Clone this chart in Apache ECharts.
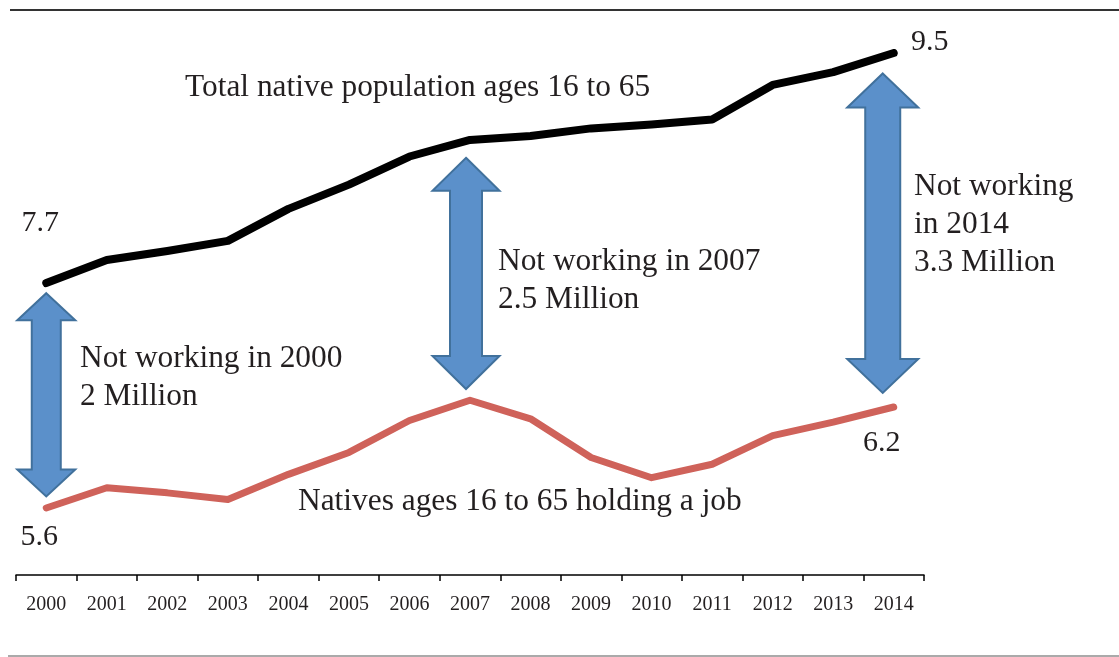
<!DOCTYPE html>
<html>
<head>
<meta charset="utf-8">
<script src="https://cdn.jsdelivr.net/npm/echarts@6/dist/echarts.min.js"></script>
<style>
  html, body { margin: 0; padding: 0; background: #fff; }
  #chart { width: 1119px; height: 657px; }
</style>
</head>
<body>
<div id="chart"></div>
<script>
// years on the x axis
var years = ['2000', '2001', '2002', '2003', '2004', '2005', '2006', '2007',
             '2008', '2009', '2010', '2011', '2012', '2013', '2014'];
// total native population ages 16 to 65 (millions)
var totalNative = [7.70, 7.88, 7.95, 8.03, 8.28, 8.47, 8.69, 8.82,
                   8.85, 8.91, 8.94, 8.98, 9.25, 9.35, 9.50];
// natives ages 16 to 65 holding a job (millions)
var holdingJob = [5.60, 5.72, 5.69, 5.65, 5.80, 5.93, 6.12, 6.24,
                  6.13, 5.90, 5.78, 5.86, 6.03, 6.11, 6.20];
// "not working" arrows: [year index, top end, bottom end] on the total axis
var gapArrows = [[0, 7.62, 6.03], [7, 8.68, 6.87], [14, 9.34, 6.84]];

var textColor = '#231f20';
var serif = '"Liberation Serif", "DejaVu Serif", serif';
// arrow shapes: shaft half width, head half width, head height, x shift
var arrowShapes = [[14.5, 29, 27, 0], [16, 33.5, 33, -4], [17.5, 35.5, 34, -11]];

function endLabel(offset) {
  return {
    show: true,
    position: 'inside',
    offset: offset,
    formatter: function (p) { return p.value.toFixed(1); },
    color: textColor,
    fontFamily: serif,
    fontSize: 30
  };
}

var totalData = totalNative.map(function (v, i) {
  if (i === 0) return { value: v, label: endLabel([-6, -60]) };
  if (i === totalNative.length - 1) return { value: v, label: endLabel([36, -11]) };
  return v;
});
var jobData = holdingJob.map(function (v, i) {
  if (i === 0) return { value: v, label: endLabel([-7, 29]) };
  if (i === holdingJob.length - 1) return { value: v, label: endLabel([-12, 36]) };
  return v;
});

function renderArrow(params, api) {
  var s = arrowShapes[params.dataIndex];
  var top = api.coord([api.value(0), api.value(1)]);
  var bot = api.coord([api.value(0), api.value(2)]);
  var x = top[0] + s[3], yT = top[1], yB = bot[1];
  var sw = s[0], hw = s[1], hh = s[2];
  return {
    type: 'polygon',
    shape: {
      points: [
        [x, yT], [x + hw, yT + hh], [x + sw, yT + hh], [x + sw, yB - hh],
        [x + hw, yB - hh], [x, yB], [x - hw, yB - hh], [x - sw, yB - hh],
        [x - sw, yT + hh], [x - hw, yT + hh]
      ]
    },
    style: { fill: '#5b90ca', stroke: '#41719c', lineWidth: 2 }
  };
}

function note(text, x, y) {
  return {
    type: 'text',
    left: x,
    top: y,
    style: {
      text: text,
      fill: textColor,
      font: '31.4px ' + serif,
      lineHeight: 38
    },
    z: 10
  };
}

var chartDom = document.getElementById('chart');
var myChart = echarts.init(chartDom);
var option = {
  animation: false,
  backgroundColor: '#fff',
  grid: { left: 16, right: 195, top: 53, bottom: 82 },
  xAxis: {
    type: 'category',
    data: years,
    boundaryGap: true,
    axisLine: { lineStyle: { color: '#000', width: 1.5 } },
    axisTick: { show: true, length: 6, lineStyle: { color: '#000', width: 1.5 } },
    axisLabel: { color: textColor, fontFamily: serif, fontSize: 20, margin: 20 },
    splitLine: { show: false }
  },
  yAxis: [
    { type: 'value', min: 5.415, max: 9.5, show: false },
    { type: 'value', min: 5.202, max: 8.303, show: false }
  ],
  series: [
    {
      name: 'Total native population ages 16 to 65',
      type: 'line',
      yAxisIndex: 0,
      data: totalData,
      symbol: 'circle',
      symbolSize: 1,
      itemStyle: { color: '#000' },
      lineStyle: { color: '#000', width: 8, cap: 'round', join: 'round' },
      z: 3
    },
    {
      name: 'Natives ages 16 to 65 holding a job',
      type: 'line',
      yAxisIndex: 1,
      data: jobData,
      symbol: 'circle',
      symbolSize: 1,
      itemStyle: { color: '#cf625a' },
      lineStyle: { color: '#cf625a', width: 7, cap: 'round', join: 'round' },
      z: 3
    },
    {
      type: 'custom',
      yAxisIndex: 0,
      renderItem: renderArrow,
      data: gapArrows,
      encode: { x: 0, y: [1, 2] },
      silent: true,
      z: 2
    }
  ],
  graphic: [
    { type: 'line', shape: { x1: 10, y1: 10, x2: 1119, y2: 10 },
      style: { stroke: '#333', lineWidth: 2 } },
    { type: 'line', shape: { x1: 8, y1: 656, x2: 1119, y2: 656 },
      style: { stroke: '#aaa', lineWidth: 2 } },
    note('Total native population ages 16 to 65', 185, 69),
    note('Natives ages 16 to 65 holding a job', 298, 483),
    note('Not working in 2000\n2 Million', 80, 340),
    note('Not working in 2007\n2.5 Million', 498, 243),
    note('Not working\nin 2014\n3.3 Million', 914, 168)
  ]
};
option && myChart.setOption(option);
</script>
</body>
</html>
